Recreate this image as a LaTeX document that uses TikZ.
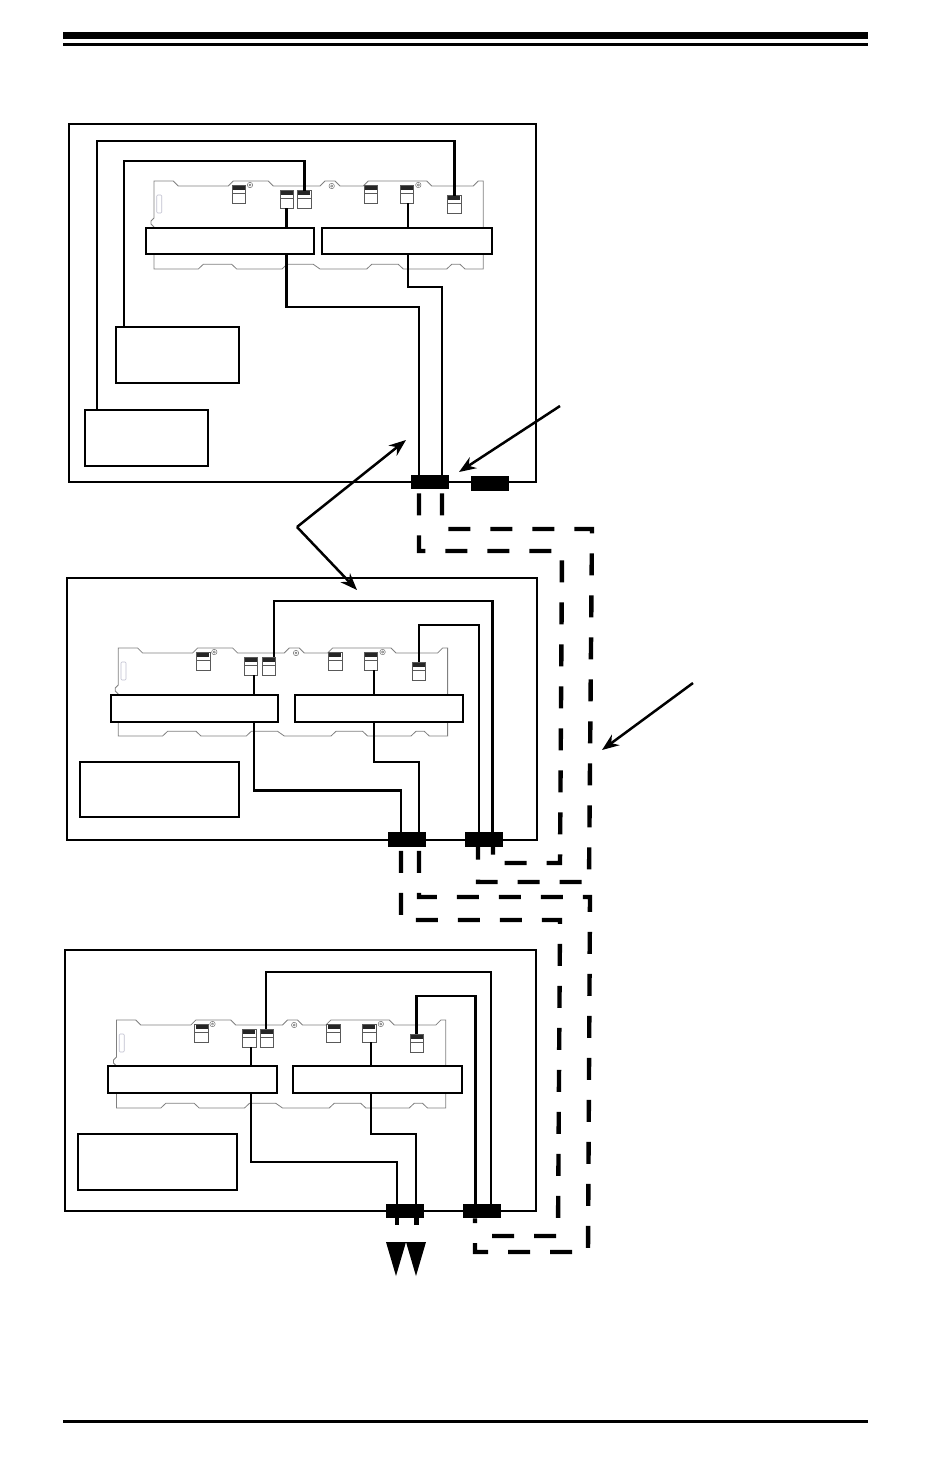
\documentclass[tikz,border=0pt]{standalone}
\usetikzlibrary{arrows.meta}
\tikzset{
  board/.style={draw=black!50, line width=0.8pt},
  led/.style={draw=blue!25!black!25, line width=0.6pt, rounded corners=1pt},
  connline/.style={draw=black!65, line width=0.7pt},
  screw/.style={draw=black!55, line width=0.5pt},
  mainbox/.style={draw=black, line width=2.8pt},
  subbox/.style={draw=black, line width=2.5pt},
  whiterect/.style={draw=black, line width=1.2pt, fill=white},
  wire/.style={draw=black, line width=2.7pt},
  dashw/.style={draw=black, line width=4.4pt, dash pattern=on 22pt off 20pt},
  blk/.style={fill=black, draw=none, inner sep=0pt, minimum width=38pt, minimum height=14.5pt},
  arr/.style={draw=black, line width=2.5pt, -{Stealth[length=17pt,width=13pt]}}
}
\newcommand{\myconn}[2]{%
  \draw[connline, fill=white] (#1,#2) rectangle ++(13.4,18.3);
  \fill[black!85] (#1+0.7,#2+0.8) rectangle (#1+12.7,#2+5);
  \draw[connline] (#1,#2+8.5) -- ++(13.4,0);}
\newcommand{\myboard}[1]{%
  \begin{scope}[shift={#1}]
    \draw[board] (0,0) -- (19.3,0) -- (24.3,5) -- (74.3,5) -- (79.3,0) -- (114.3,0) -- (119.3,5)
      -- (166,5) -- (171,0) -- (181,0) -- (186,5) -- (209.3,5) -- (214.3,0) -- (272.7,0)
      -- (277.7,5) -- (319.3,5) -- (324.3,0) -- (329.3,0) -- (329.3,88)
      -- (311,88) -- (306,83.3) -- (297.7,83.3) -- (292.7,88) -- (249.3,88) -- (244.3,83.3)
      -- (217.7,83.3) -- (212.7,88) -- (166,88) -- (159.3,83.3) -- (133,83.3) -- (128,88)
      -- (82.7,88) -- (77.7,83.3) -- (49.3,83.3) -- (44.3,88) -- (0,88) -- (0,46)
      -- (-3,43) -- (-3,40) -- (0,37) -- cycle;
    \draw[led] (2.7,14) rectangle (7.7,32);
    \foreach \cx/\cy in {78.3/4,126/9,143.7/9,210.3/4,246/4,293.7/14} {\myconn{\cx}{\cy}}
    \foreach \sx/\sy in {96/4,177.7/5,264.3/4} {
      \draw[screw] (\sx,\sy) circle (2.7);
      \draw[screw] (\sx,\sy) circle (1.1);}
  \end{scope}}
\begin{document}
\begin{tikzpicture}[x=1pt,y=-1pt]
\useasboundingbox (0,0) rectangle (950,1484);
\fill[white] (0,0) rectangle (950,1484);

% header and footer rules
\fill[black] (63,32) rectangle (868,38.5);
\fill[black] (63,43) rectangle (868,45.5);
\fill[black] (63,1420) rectangle (868,1423);

% ================= TOP BOX =================
\draw[mainbox] (69,124) rectangle (536,482);
\myboard{(154,181)}
\draw[subbox] (116,327) rectangle (239,383);
\draw[subbox] (85,410) rectangle (208,466);
\node[blk] (ta) at (430,482) {};
\node[blk] (tb) at (490,483.5) {};
\draw[wire] (97,410) -- (97,141) -- (454.5,141) -- (454.5,196);
\draw[wire] (124,327) -- (124,161) -- (304.5,161) -- (304.5,191);
\draw[wire] (286.7,208) -- (286.7,307) -- (419,307) -- (419,0 |- ta.north);
\draw[wire] (408,203) -- (408,287) -- (442,287) -- (442,0 |- ta.north);
\draw[whiterect] (146,228) rectangle (314,254);
\draw[whiterect] (322,228) rectangle (492,254);

% ================= MIDDLE BOX =================
\draw[mainbox] (67,578) rectangle (537,840);
\myboard{(118.3,648)}
\draw[subbox] (80,762) rectangle (239,817);
\node[blk] (ma) at (407,839.5) {};
\node[blk] (mb) at (484,839.5) {};
\draw[wire] (274,657) -- (274,601) -- (492.5,601) -- (492.5,0 |- mb.north);
\draw[wire] (419,662) -- (419,625) -- (479,625) -- (479,0 |- mb.north);
\draw[wire] (254,675) -- (254,790.5) -- (401,790.5) -- (401,0 |- ma.north);
\draw[wire] (374,670) -- (374,762) -- (419,762) -- (419,0 |- ma.north);
\draw[whiterect] (111,695) rectangle (278,722);
\draw[whiterect] (295,695) rectangle (463,722);

% ================= BOTTOM BOX =================
\draw[mainbox] (65,950) rectangle (536,1211);
\myboard{(116.5,1020)}
\draw[subbox] (78,1134) rectangle (237,1190);
\node[blk] (ba) at (404.5,1211) {};
\node[blk] (bb) at (482,1211) {};
\draw[wire] (266,1029) -- (266,972) -- (491,972) -- (491,0 |- bb.north);
\draw[wire] (416.7,1034) -- (416.7,996) -- (475.3,996) -- (475.3,0 |- bb.north);
\draw[wire] (251,1047) -- (251,1162) -- (397,1162) -- (397,0 |- ba.north);
\draw[wire] (371,1042) -- (371,1134) -- (416,1134) -- (416,0 |- ba.north);
\draw[whiterect] (108,1066) rectangle (277,1093);
\draw[whiterect] (293,1066) rectangle (462,1093);

% ================= DASHED CABLES =================
\draw[dashw, dash phase=-4pt] (442,0 |- ta.south) -- (442,529) -- (592,529) -- (589,882) -- (478,882) -- (478,0 |- mb.south);
\draw[dashw, dash phase=-4pt] (419,0 |- ta.south) -- (419,551) -- (562,551) -- (560,863) -- (493,863) -- (493,0 |- mb.south);
\draw[dashw, dash phase=-4pt] (419,0 |- ma.south) -- (419,897) -- (590,897) -- (588,1252) -- (475,1252) -- (475,0 |- bb.south);
\draw[dashw, dash phase=-4pt] (401,0 |- ma.south) -- (401,920) -- (560,920) -- (558,1236) -- (491,1236) -- (491,0 |- bb.south);

% cables leaving the bottom box
\fill[black] (394.5,1218) rectangle (399,1225);
\fill[black] (414,1218) rectangle (418.5,1225);
\coordinate (d1) at (396,1276);
\coordinate (d2) at (416,1276);
\fill[black] (386,1242) -- (406,1242) -- (d1) -- cycle;
\fill[black] (406,1242) -- (426,1242) -- (d2) -- cycle;

% ================= ARROWS =================
\coordinate (a0) at (560,406);
\coordinate (a1) at (459,472);
\coordinate (v0) at (297,527);
\coordinate (v1) at (406,440);
\coordinate (v2) at (357,590);
\coordinate (r0) at (693,683);
\coordinate (r1) at (602,750);
\draw[arr] (a0) -- (a1);
\draw[arr] (v0) -- (v1);
\draw[arr] (v0) -- (v2);
\draw[arr] (r0) -- (r1);
\end{tikzpicture}
\end{document}
